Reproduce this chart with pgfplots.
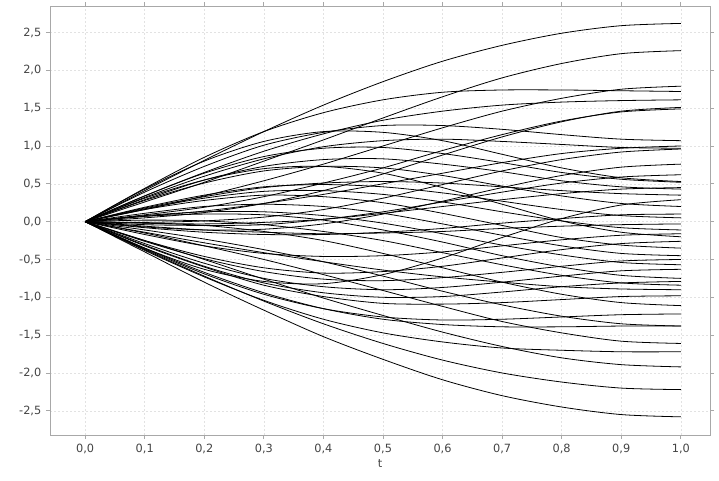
\documentclass[border=0pt]{standalone}
\usepackage{fontspec}
\setmainfont{DejaVu Sans}
\usepackage{pgfplots}
\pgfplotsset{compat=1.18}

\definecolor{tickgray}{HTML}{444444}
\definecolor{framegray}{HTML}{A8A8A8}
\definecolor{gridgray}{HTML}{E2E2E2}

\pgfplotsset{
  path/.style={black, line width=0.6pt, smooth, mark=none},
}

\begin{document}
\begin{tikzpicture}
\useasboundingbox (-37.5pt,-33.75pt) rectangle (501.75pt,326.25pt);
\begin{axis}[
    at={(0,0)}, anchor=south west,
    scale only axis,
    width=495pt, height=321.75pt,
    xmin=-0.059, xmax=1.049,
    ymin=-2.82, ymax=2.85,
    xtick={0,0.1,0.2,0.3,0.4,0.5,0.6,0.7,0.8,0.9,1},
    ytick={-2.5,-2,-1.5,-1,-0.5,0,0.5,1,1.5,2,2.5},
    /pgf/number format/assume math mode=true,
    /pgf/number format/.cd, fixed, fixed zerofill, precision=1, use comma, /pgfplots/.cd,
    ticklabel style={font=\fontsize{8.5}{10}\selectfont, text=tickgray},
    xlabel={t},
    xlabel style={font=\fontsize{8.5}{10}\selectfont, text=tickgray, yshift=2pt},
    tick align=outside,
    major tick length=3pt,
    tick style={framegray, line width=0.6pt},
    axis line style={framegray, line width=0.7pt},
    grid=major,
    grid style={gridgray, dash pattern=on 1.5pt off 1.5pt, line width=0.4pt},
    clip=true,
]

% upper bundle
\addplot[path] coordinates {(0,0)(0.1,0.41)(0.2,0.81)(0.3,1.19)(0.4,1.54)(0.5,1.85)(0.6,2.12)(0.7,2.33)(0.8,2.49)(0.9,2.59)(1,2.62)};
\addplot[path] coordinates {(0,0)(0.1,0.26)(0.2,0.52)(0.3,0.80)(0.4,1.08)(0.5,1.37)(0.6,1.65)(0.7,1.90)(0.8,2.09)(0.9,2.22)(1,2.26)};
\addplot[path] coordinates {(0,0)(0.1,0.16)(0.2,0.34)(0.3,0.54)(0.4,0.76)(0.5,1.00)(0.6,1.24)(0.7,1.46)(0.8,1.63)(0.9,1.75)(1,1.79)};
\addplot[path] coordinates {(0,0)(0.1,0.44)(0.2,0.85)(0.3,1.19)(0.4,1.44)(0.5,1.61)(0.6,1.71)(0.7,1.74)(0.8,1.74)(0.9,1.73)(1,1.72)};
\addplot[path] coordinates {(0,0)(0.1,0.34)(0.2,0.65)(0.3,0.93)(0.4,1.16)(0.5,1.34)(0.6,1.46)(0.7,1.54)(0.8,1.58)(0.9,1.60)(1,1.61)};
\addplot[path] coordinates {(0,0)(0.1,0.05)(0.2,0.12)(0.3,0.24)(0.4,0.41)(0.5,0.63)(0.6,0.88)(0.7,1.12)(0.8,1.32)(0.9,1.46)(1,1.51)};
\addplot[path] coordinates {(0,0)(0.1,0.09)(0.2,0.19)(0.3,0.33)(0.4,0.51)(0.5,0.71)(0.6,0.94)(0.7,1.15)(0.8,1.33)(0.9,1.45)(1,1.49)};
\addplot[path] coordinates {(0,0)(0.1,0.39)(0.2,0.73)(0.3,1.01)(0.4,1.18)(0.5,1.27)(0.6,1.27)(0.7,1.22)(0.8,1.15)(0.9,1.09)(1,1.07)};
\addplot[path] coordinates {(0,0)(0.1,0.07)(0.2,0.14)(0.3,0.24)(0.4,0.36)(0.5,0.50)(0.6,0.64)(0.7,0.78)(0.8,0.90)(0.9,0.97)(1,1.00)};
\addplot[path] coordinates {(0,0)(0.1,0.32)(0.2,0.60)(0.3,0.83)(0.4,0.99)(0.5,1.07)(0.6,1.09)(0.7,1.06)(0.8,1.02)(0.9,0.98)(1,0.97)};
\addplot[path] coordinates {(0,0)(0.1,-0.01)(0.2,0.01)(0.3,0.06)(0.4,0.16)(0.5,0.31)(0.6,0.49)(0.7,0.67)(0.8,0.82)(0.9,0.92)(1,0.96)};
\addplot[path] coordinates {(0,0)(0.1,-0.07)(0.2,-0.11)(0.3,-0.10)(0.4,-0.03)(0.5,0.10)(0.6,0.27)(0.7,0.45)(0.8,0.61)(0.9,0.72)(1,0.76)};
\addplot[path] coordinates {(0,0)(0.1,0.43)(0.2,0.80)(0.3,1.06)(0.4,1.19)(0.5,1.18)(0.6,1.07)(0.7,0.89)(0.8,0.71)(0.9,0.58)(1,0.53)};
\addplot[path] coordinates {(0,0)(0.1,0.34)(0.2,0.64)(0.3,0.86)(0.4,0.97)(0.5,0.98)(0.6,0.90)(0.7,0.78)(0.8,0.65)(0.9,0.56)(1,0.52)};
\addplot[path] coordinates {(0,0)(0.1,-0.02)(0.2,-0.03)(0.3,-0.01)(0.4,0.03)(0.5,0.11)(0.6,0.20)(0.7,0.29)(0.8,0.37)(0.9,0.43)(1,0.45)};
\addplot[path] coordinates {(0,0)(0.1,0.29)(0.2,0.55)(0.3,0.73)(0.4,0.82)(0.5,0.83)(0.6,0.76)(0.7,0.66)(0.8,0.54)(0.9,0.46)(1,0.43)};
\addplot[path] coordinates {(0,0)(0.1,-0.35)(0.2,-0.63)(0.3,-0.79)(0.4,-0.82)(0.5,-0.70)(0.6,-0.48)(0.7,-0.21)(0.8,0.04)(0.9,0.22)(1,0.29)};
\addplot[path] coordinates {(0,0)(0.1,0.28)(0.2,0.51)(0.3,0.67)(0.4,0.73)(0.5,0.71)(0.6,0.61)(0.7,0.47)(0.8,0.34)(0.9,0.24)(1,0.20)};
\addplot[path] coordinates {(0,0)(0.1,0.19)(0.2,0.35)(0.3,0.46)(0.4,0.49)(0.5,0.46)(0.6,0.38)(0.7,0.27)(0.8,0.16)(0.9,0.08)(1,0.05)};
\addplot[path] coordinates {(0,0)(0.1,-0.08)(0.2,-0.14)(0.3,-0.17)(0.4,-0.17)(0.5,-0.14)(0.6,-0.09)(0.7,-0.02)(0.8,0.04)(0.9,0.09)(1,0.10)};
\addplot[path] coordinates {(0,0)(0.1,-0.04)(0.2,-0.05)(0.3,-0.04)(0.4,0.03)(0.5,0.13)(0.6,0.26)(0.7,0.39)(0.8,0.51)(0.9,0.59)(1,0.62)};
\addplot[path] coordinates {(0,0)(0.1,0.18)(0.2,0.33)(0.3,0.45)(0.4,0.51)(0.5,0.53)(0.6,0.51)(0.7,0.46)(0.8,0.41)(0.9,0.37)(1,0.35)};

% around zero
\addplot[path] coordinates {(0,0)(0.1,-0.06)(0.2,-0.11)(0.3,-0.14)(0.4,-0.16)(0.5,-0.15)(0.6,-0.13)(0.7,-0.09)(0.8,-0.06)(0.9,-0.04)(1,-0.03)};
\addplot[path] coordinates {(0,0)(0.1,0.17)(0.2,0.31)(0.3,0.40)(0.4,0.41)(0.5,0.36)(0.6,0.26)(0.7,0.13)(0.8,0.01)(0.9,-0.08)(1,-0.11)};
\addplot[path] coordinates {(0,0)(0.1,-0.17)(0.2,-0.32)(0.3,-0.42)(0.4,-0.46)(0.5,-0.45)(0.6,-0.40)(0.7,-0.32)(0.8,-0.24)(0.9,-0.18)(1,-0.16)};
\addplot[path] coordinates {(0,0)(0.1,0.31)(0.2,0.55)(0.3,0.70)(0.4,0.73)(0.5,0.64)(0.6,0.45)(0.7,0.23)(0.8,0.01)(0.9,-0.14)(1,-0.20)};
\addplot[path] coordinates {(0,0)(0.1,-0.25)(0.2,-0.46)(0.3,-0.61)(0.4,-0.68)(0.5,-0.66)(0.6,-0.59)(0.7,-0.48)(0.8,-0.37)(0.9,-0.29)(1,-0.26)};
\addplot[path] coordinates {(0,0)(0.1,0.16)(0.2,0.28)(0.3,0.35)(0.4,0.33)(0.5,0.25)(0.6,0.11)(0.7,-0.05)(0.8,-0.21)(0.9,-0.31)(1,-0.35)};
\addplot[path] coordinates {(0,0)(0.1,0.11)(0.2,0.20)(0.3,0.23)(0.4,0.20)(0.5,0.11)(0.6,-0.03)(0.7,-0.18)(0.8,-0.32)(0.9,-0.42)(1,-0.45)};
\addplot[path] coordinates {(0,0)(0.1,-0.26)(0.2,-0.49)(0.3,-0.66)(0.4,-0.76)(0.5,-0.78)(0.6,-0.74)(0.7,-0.67)(0.8,-0.59)(0.9,-0.52)(1,-0.50)};
\addplot[path] coordinates {(0,0)(0.1,0.08)(0.2,0.13)(0.3,0.13)(0.4,0.08)(0.5,-0.02)(0.6,-0.16)(0.7,-0.31)(0.8,-0.44)(0.9,-0.54)(1,-0.57)};
\addplot[path] coordinates {(0,0)(0.1,-0.29)(0.2,-0.55)(0.3,-0.75)(0.4,-0.86)(0.5,-0.90)(0.6,-0.87)(0.7,-0.80)(0.8,-0.72)(0.9,-0.65)(1,-0.63)};
\addplot[path] coordinates {(0,0)(0.1,0.07)(0.2,0.10)(0.3,0.09)(0.4,0.02)(0.5,-0.11)(0.6,-0.27)(0.7,-0.45)(0.8,-0.60)(0.9,-0.71)(1,-0.75)};
\addplot[path] coordinates {(0,0)(0.1,-0.31)(0.2,-0.59)(0.3,-0.81)(0.4,-0.94)(0.5,-1.00)(0.6,-0.99)(0.7,-0.93)(0.8,-0.86)(0.9,-0.81)(1,-0.79)};
\addplot[path] coordinates {(0,0)(0.1,0.02)(0.2,0.01)(0.3,-0.04)(0.4,-0.13)(0.5,-0.25)(0.6,-0.41)(0.7,-0.57)(0.8,-0.71)(0.9,-0.81)(1,-0.84)};
\addplot[path] coordinates {(0,0)(0.1,-0.14)(0.2,-0.28)(0.3,-0.41)(0.4,-0.53)(0.5,-0.64)(0.6,-0.73)(0.7,-0.80)(0.8,-0.86)(0.9,-0.89)(1,-0.90)};

% lower bundle
\addplot[path] coordinates {(0,0)(0.1,-0.32)(0.2,-0.60)(0.3,-0.84)(0.4,-0.99)(0.5,-1.08)(0.6,-1.09)(0.7,-1.07)(0.8,-1.03)(0.9,-0.99)(1,-0.98)};
\addplot[path] coordinates {(0,0)(0.1,-0.02)(0.2,-0.05)(0.3,-0.13)(0.4,-0.25)(0.5,-0.42)(0.6,-0.61)(0.7,-0.80)(0.8,-0.96)(0.9,-1.07)(1,-1.11)};
\addplot[path] coordinates {(0,0)(0.1,-0.36)(0.2,-0.69)(0.3,-0.96)(0.4,-1.15)(0.5,-1.26)(0.6,-1.30)(0.7,-1.29)(0.8,-1.26)(0.9,-1.23)(1,-1.22)};
\addplot[path] coordinates {(0,0)(0.1,-0.11)(0.2,-0.23)(0.3,-0.37)(0.4,-0.53)(0.5,-0.72)(0.6,-0.92)(0.7,-1.10)(0.8,-1.25)(0.9,-1.35)(1,-1.38)};
\addplot[path] coordinates {(0,0)(0.1,-0.35)(0.2,-0.67)(0.3,-0.94)(0.4,-1.15)(0.5,-1.29)(0.6,-1.36)(0.7,-1.39)(0.8,-1.39)(0.9,-1.38)(1,-1.38)};
\addplot[path] coordinates {(0,0)(0.1,-0.15)(0.2,-0.32)(0.3,-0.50)(0.4,-0.70)(0.5,-0.91)(0.6,-1.12)(0.7,-1.32)(0.8,-1.47)(0.9,-1.58)(1,-1.61)};
\addplot[path] coordinates {(0,0)(0.1,-0.38)(0.2,-0.73)(0.3,-1.04)(0.4,-1.29)(0.5,-1.47)(0.6,-1.59)(0.7,-1.67)(0.8,-1.70)(0.9,-1.72)(1,-1.72)};
\addplot[path] coordinates {(0,0)(0.1,-0.25)(0.2,-0.50)(0.3,-0.76)(0.4,-1.01)(0.5,-1.24)(0.6,-1.46)(0.7,-1.65)(0.8,-1.80)(0.9,-1.89)(1,-1.92)};
\addplot[path] coordinates {(0,0)(0.1,-0.37)(0.2,-0.72)(0.3,-1.05)(0.4,-1.35)(0.5,-1.61)(0.6,-1.83)(0.7,-2.00)(0.8,-2.12)(0.9,-2.20)(1,-2.22)};
\addplot[path] coordinates {(0,0)(0.1,-0.40)(0.2,-0.80)(0.3,-1.17)(0.4,-1.52)(0.5,-1.82)(0.6,-2.09)(0.7,-2.30)(0.8,-2.45)(0.9,-2.55)(1,-2.58)};

\end{axis}
\end{tikzpicture}
\end{document}
